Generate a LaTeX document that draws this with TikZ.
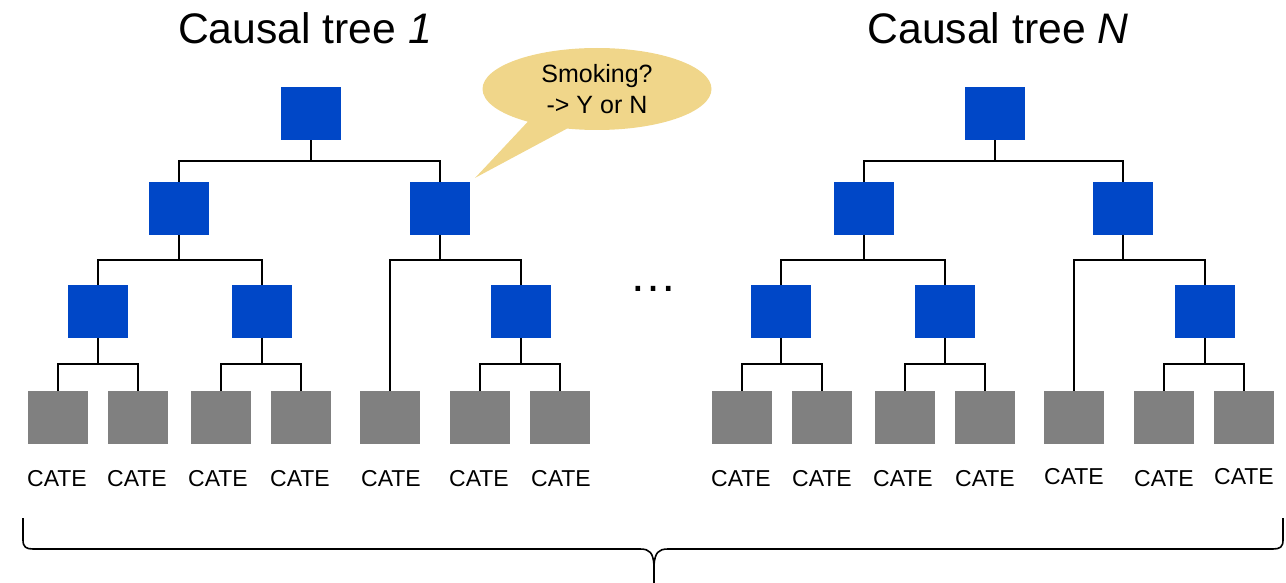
\documentclass[tikz,border=0pt]{standalone}
\usepackage{fontspec}
\setmainfont{Liberation Sans}
\usetikzlibrary{shapes.callouts,calc}
\definecolor{splitblue}{RGB}{0,71,199}
\definecolor{leafgray}{RGB}{128,128,128}
\definecolor{bubble}{RGB}{240,214,138}
\tikzset{
  split/.style={fill=splitblue,minimum width=60pt,minimum height=53pt,inner sep=0pt},
  leaf/.style={fill=leafgray,minimum width=60pt,minimum height=53pt,inner sep=0pt},
  edge/.style={line width=1.5pt,black},
  cate/.style={anchor=base,inner sep=0pt,font=\fontsize{23}{26}\selectfont},
  title/.style={anchor=base,inner sep=0pt,font=\fontsize{42.7}{50}\selectfont},
}
\begin{document}
\begin{tikzpicture}[x=1pt,y=-1pt]
\useasboundingbox (0,0) rectangle (1286,583);

% titles
\node[title] (t1) at (305,44) {Causal tree \textit{1}};
\node[title] (t2) at (998,44) {Causal tree \textit{N}};

% ---- tree 1 ----
\node[split] (r)  at (311,113.5) {};
\node[split] (a1) at (179,208.5) {};
\node[split] (a2) at (440,208.5) {};
\node[split] (b1) at (98,311.5) {};
\node[split] (b2) at (262,311.5) {};
\node[split] (b3) at (521,311.5) {};
\foreach \i/\x in {1/58,2/138,3/221,4/301,5/390,6/480,7/560}
  \node[leaf] (l\i) at (\x,417.5) {};

% ---- tree 2 ----
\node[split] (R)  at (995,113.5) {};
\node[split] (A1) at (864,208.5) {};
\node[split] (A2) at (1123,208.5) {};
\node[split] (B1) at (781,311.5) {};
\node[split] (B2) at (945,311.5) {};
\node[split] (B3) at (1205,311.5) {};
\foreach \i/\x in {1/742,2/822,3/905,4/985,5/1074,6/1164,7/1244}
  \node[leaf] (L\i) at (\x,417.5) {};

% elbow connectors: parent bottom -> bus -> child top
\foreach \p/\c/\d in {r/a1/21,r/a2/21,a1/b1/25,a1/b2/25,a2/l5/25,a2/b3/25,
                      b1/l1/26,b1/l2/26,b2/l3/26,b2/l4/26,b3/l6/26,b3/l7/26,
                      R/A1/21,R/A2/21,A1/B1/25,A1/B2/25,A2/L5/25,A2/B3/25,
                      B1/L1/26,B1/L2/26,B2/L3/26,B2/L4/26,B3/L6/26,B3/L7/26}
  \draw[edge] (\p.south) -- ++(0,\d) -| (\c.north);

% leaf labels
\foreach \i/\x in {1/57,2/137,3/218,4/300,5/391,6/479,7/561}
  \node[cate] (c\i) at (\x,486) {CATE};
\foreach \i/\x/\y in {1/741/486,2/822/486,3/903/486,4/985/486,5/1074/484,6/1164/486,7/1244/484}
  \node[cate] (C\i) at (\x,\y) {CATE};

% ellipsis between the trees
\node[anchor=base,inner sep=0pt,font=\fontsize{48}{50}\selectfont] (dots) at (653,291) {…};

% speech bubble
\node[ellipse callout,fill=bubble,minimum width=229pt,minimum height=82pt,
      inner sep=0pt,align=center,font=\fontsize{25}{31}\selectfont,
      callout pointer arc=22,
      callout absolute pointer={($(a2.north east)+(5,-4)$)}]
  (bub) at (597,89) {Smoking?\\-> Y or N};

% brace under both trees
\draw[line width=1.6pt]
  (23,518) -- (23,540) .. controls (23,547) and (26,549) .. (33,549)
  -- (640,549) .. controls (650,549) and (653,553) .. (654,565) -- (654,583);
\draw[line width=1.6pt]
  (1283,518) -- (1283,540) .. controls (1283,547) and (1280,549) .. (1273,549)
  -- (668,549) .. controls (658,549) and (655,553) .. (654,565);
\end{tikzpicture}
\end{document}
